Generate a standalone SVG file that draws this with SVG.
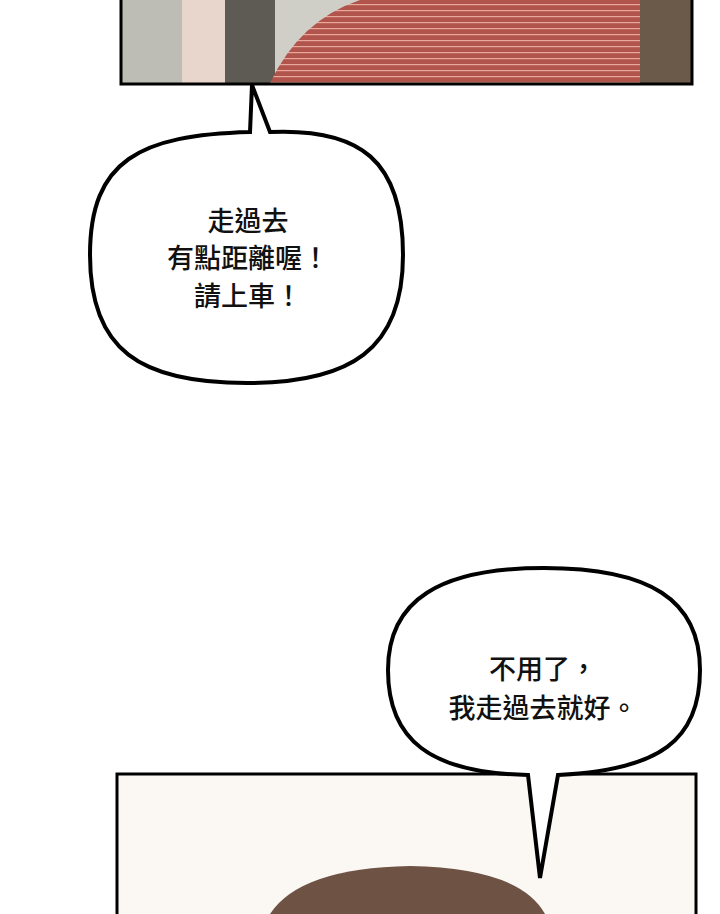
<svg xmlns="http://www.w3.org/2000/svg" width="720" height="914" viewBox="0 0 720 914">
<defs>
<style>
.b{fill:#fff;stroke:#000;stroke-width:4}
.t{font-family:"Noto Sans CJK TC","Noto Sans CJK SC",sans-serif;font-size:27px;font-weight:500;text-anchor:middle;fill:#111}
</style>
<pattern id="st" width="8" height="6" patternUnits="userSpaceOnUse"><rect width="8" height="6" fill="#b0544c"/><rect y="4" width="8" height="1.2" fill="#e8a89c"/></pattern>
<clipPath id="c1"><rect x="122" y="0" width="569" height="83"/></clipPath>
<clipPath id="c2"><rect x="118" y="775" width="577" height="139"/></clipPath>
</defs>
<rect width="720" height="914" fill="#fff"/>
<g id="panel1">
<g clip-path="url(#c1)">
<rect x="122" y="0" width="569" height="83" fill="#cfcfc8"/>
<rect x="122" y="0" width="60" height="83" fill="#bdbdb5"/>
<rect x="182" y="0" width="80" height="83" fill="#e8d6cc"/>
<rect x="225" y="0" width="50" height="83" fill="#5e5a54"/>
<path d="M270 83 Q300 20 360 0 L691 0 L691 83 Z" fill="url(#st)"/>
<rect x="640" y="0" width="51" height="83" fill="#6b5a4a"/>
</g>
<rect x="121" y="-2" width="571" height="86" fill="none" stroke="#000" stroke-width="3"/>
</g>
<g id="bubble1">
<path class="b" d="M250 132 L252 85 L270 132 C360 128 403 160 403 255 C403 350 350 383 247 383 C140 383 90 350 90 255 C90 160 140 135 250 132 Z"/>
<text class="t" x="248" y="231">走過去</text>
<text class="t" x="248" y="268">有點距離喔！</text>
<text class="t" x="248" y="306">請上車！</text>
</g>
<g id="panel2">
<g clip-path="url(#c2)">
<rect x="118" y="775" width="577" height="139" fill="#fbf8f4"/>
<path d="M270 914 Q300 868 410 866 Q520 868 545 914 Z" fill="#6e5244"/>
</g>
<rect x="117" y="774" width="579" height="150" fill="none" stroke="#000" stroke-width="3"/>
</g>
<g id="bubble2">
<path class="b" d="M528 775 L540 878 L558 775 C660 770 700 740 700 670 C700 600 650 568 544 568 C440 568 388 600 388 670 C388 740 430 773 528 775 Z"/>
<text class="t" x="543" y="679">不用了，</text>
<text class="t" x="543" y="718">我走過去就好。</text>
</g>
</svg>
